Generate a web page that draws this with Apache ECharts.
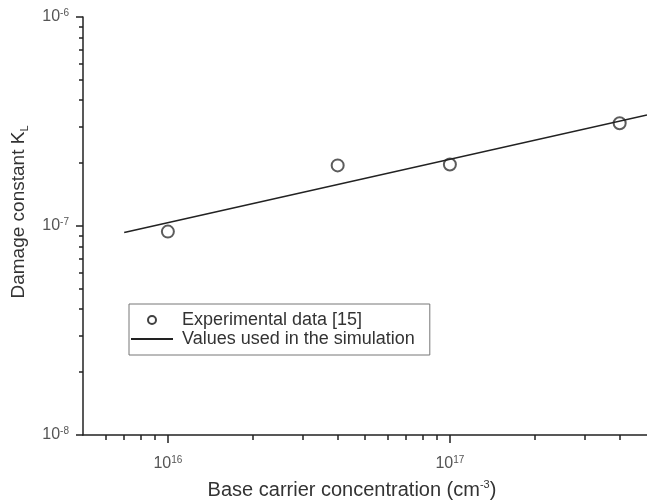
<!DOCTYPE html>
<html>
<head>
<meta charset="utf-8">
<script src="https://cdn.jsdelivr.net/npm/echarts@6/dist/echarts.min.js"></script>
<style>
  html, body { margin: 0; padding: 0; background: #fff; }
  #main { width: 647px; height: 504px; }
</style>
</head>
<body>
<div id="main"></div>
<script>
const chart = echarts.init(document.getElementById('main'))

// experimental points (carrier conc. cm^-3, K_L)
const expX = [1e16, 4e16, 1e17, 4e17]
const expY = [9.4e-8, 1.95e-7, 1.97e-7, 3.1e-7]

// simulation line end points
const simX = [7e15, 5e17]
const simY = [9.3e-8, 3.4e-7]

// tick positions
const xMajor = [1e16, 1e17]
const xMinor = [6e15, 7e15, 8e15, 9e15,
  2e16, 3e16, 4e16, 5e16, 6e16, 7e16, 8e16, 9e16,
  2e17, 3e17, 4e17]
const yMajor = [1e-8, 1e-7, 1e-6]
const yMinor = [2e-8, 3e-8, 4e-8, 5e-8, 6e-8, 7e-8, 8e-8, 9e-8,
  2e-7, 3e-7, 4e-7, 5e-7, 6e-7, 7e-7, 8e-7, 9e-7]

const font = 'Liberation Sans, Arial, sans-serif'
const axisColor = '#222'

const powLabel = function (v) {
  return '{b|10}{s|' + Math.round(Math.log10(v)) + '}'
}
const labelRich = {
  b: { fontSize: 16, color: '#555', fontFamily: font, lineHeight: 18 },
  s: { fontSize: 10, color: '#555', fontFamily: font, verticalAlign: 'top', lineHeight: 10 }
}

chart.setOption({
  animation: false,
  grid: { left: 83, top: 17, right: 0, bottom: 69, outerBoundsMode: 'none' },
  legend: {
    orient: 'vertical',
    left: 129,
    top: 304,
    padding: [7, 15, 7, 1],
    itemGap: 1,
    itemWidth: 42,
    itemHeight: 8,
    borderColor: '#777',
    borderWidth: 1,
    textStyle: { fontSize: 18, color: '#333', fontFamily: font, padding: [0, 0, 0, 4] },
    data: [
      { name: 'Experimental data [15]', itemStyle: { color: '#111', borderColor: '#111', borderWidth: 2.8 } },
      { name: 'Values used in the simulation', itemStyle: { color: 'rgba(0,0,0,0)', borderColor: 'rgba(0,0,0,0)' } }
    ]
  },
  xAxis: [
    {
      type: 'log',
      min: 5e15,
      max: 5e17,
      position: 'bottom',
      name: '{n|Base carrier concentration (cm}{s|-3}{n|)}',
      nameLocation: 'middle',
      nameGap: 44,
      nameTextStyle: {
        padding: [0, 26, 0, 0],
        rich: {
          n: { fontSize: 20, color: '#333', fontFamily: font, lineHeight: 22 },
          s: { fontSize: 11, color: '#333', fontFamily: font, verticalAlign: 'top', lineHeight: 11 }
        }
      },
      axisLine: { lineStyle: { color: axisColor, width: 1.5 } },
      axisTick: { customValues: xMajor, length: 8, inside: false, lineStyle: { color: axisColor, width: 1.5 } },
      axisLabel: { customValues: xMajor, margin: 20, formatter: powLabel, rich: labelRich },
      splitLine: { show: false }
    },
    {
      type: 'log',
      min: 5e15,
      max: 5e17,
      position: 'bottom',
      axisLine: { show: false },
      axisTick: { customValues: xMinor, length: 5, lineStyle: { color: axisColor, width: 1.5 } },
      axisLabel: { show: false },
      splitLine: { show: false }
    }
  ],
  yAxis: [
    {
      type: 'log',
      min: 1e-8,
      max: 1e-6,
      position: 'left',
      name: '{n|Damage constant K}{s|L}',
      nameLocation: 'middle',
      nameGap: 53,
      nameRotate: 90,
      nameTextStyle: {
        padding: [0, 0, 0, 28],
        rich: {
          n: { fontSize: 19, color: '#333', fontFamily: font, lineHeight: 22 },
          s: { fontSize: 11, color: '#333', fontFamily: font, verticalAlign: 'bottom', lineHeight: 11 }
        }
      },
      axisLine: { show: true, lineStyle: { color: axisColor, width: 1.5 } },
      axisTick: { customValues: yMajor, length: 7, lineStyle: { color: axisColor, width: 1.5 } },
      axisLabel: { customValues: yMajor, margin: 14, formatter: powLabel, rich: labelRich },
      splitLine: { show: false }
    },
    {
      type: 'log',
      min: 1e-8,
      max: 1e-6,
      position: 'left',
      axisLine: { show: false },
      axisTick: { customValues: yMinor, length: 4, lineStyle: { color: axisColor, width: 1.5 } },
      axisLabel: { show: false },
      splitLine: { show: false }
    }
  ],
  series: [
    {
      name: 'Experimental data [15]',
      type: 'scatter',
      symbol: 'emptyCircle',
      symbolSize: 12,
      itemStyle: { color: '#333', borderColor: '#333', borderWidth: 1.6 },
      data: expX.map((x, i) => [x, expY[i]])
    },
    {
      name: 'Values used in the simulation',
      type: 'line',
      symbol: 'none',
      itemStyle: { color: '#222' },
      lineStyle: { color: '#222', width: 1.6 },
      data: simX.map((x, i) => [x, simY[i]])
    }
  ]
})
</script>
</body>
</html>
